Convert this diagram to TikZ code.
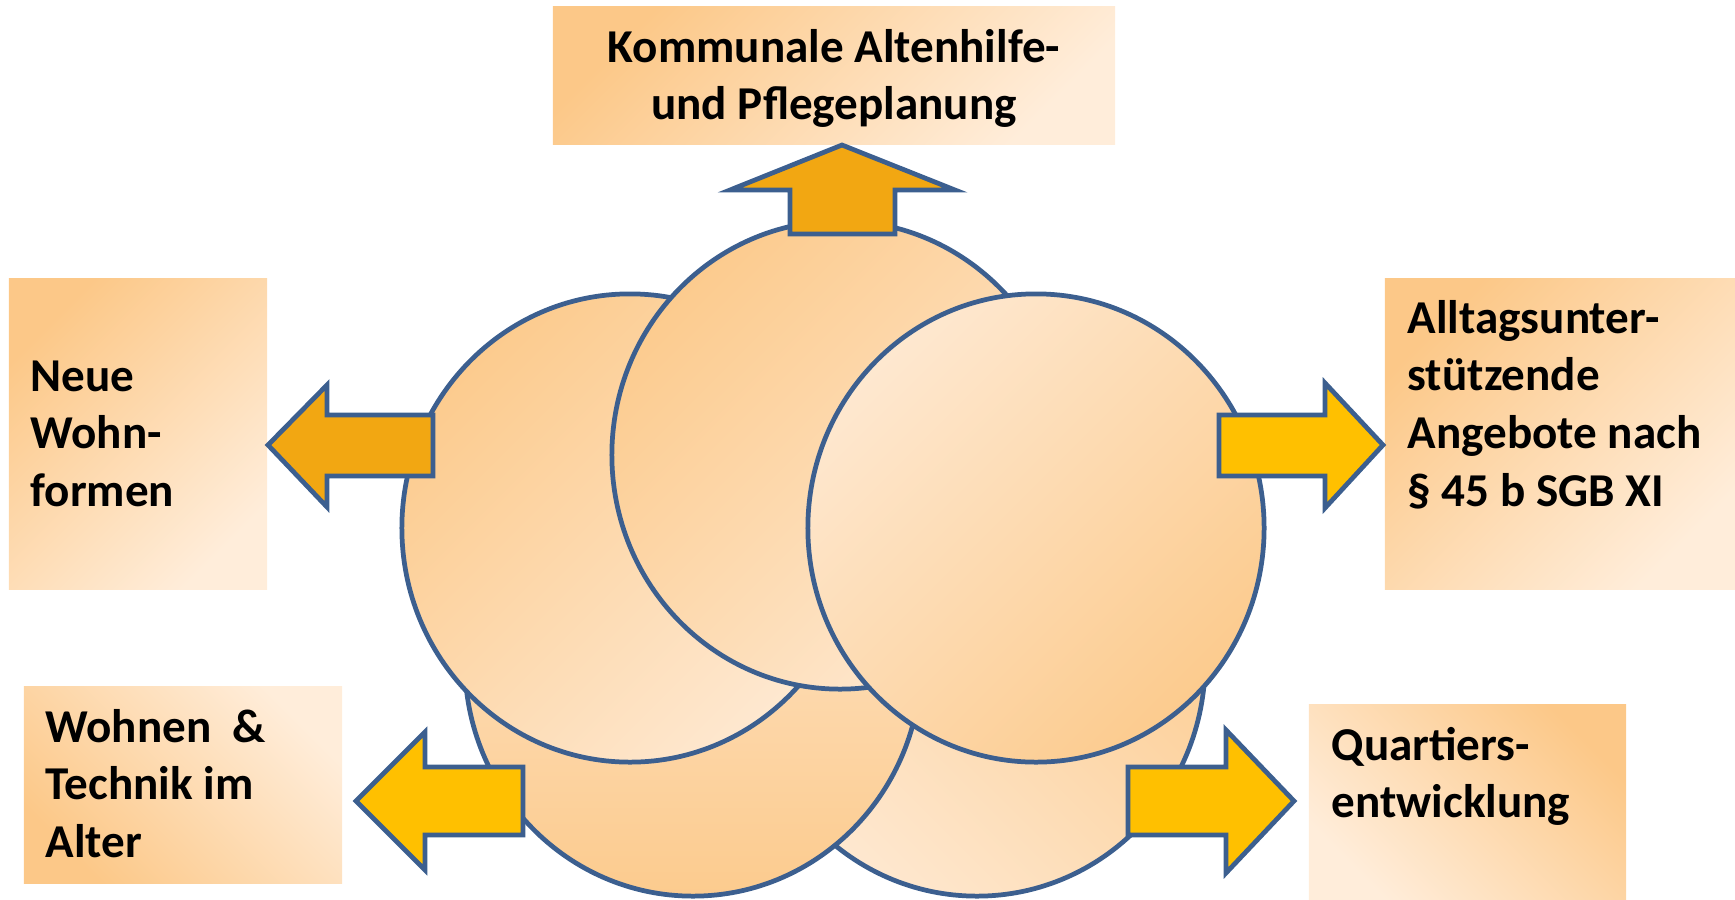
\documentclass[tikz,border=0pt]{standalone}
\usepackage{fontspec}
\setmainfont{Carlito}
\usetikzlibrary{shapes.geometric}
\definecolor{edge}{HTML}{3C5F8F}
\definecolor{peachD}{HTML}{FCC888}
\definecolor{peachL}{HTML}{FFEDDA}
\definecolor{cpeachD}{HTML}{FCCB8E}
\definecolor{cpeachL}{HTML}{FEE8D0}
\definecolor{orangeA}{HTML}{F2A712}
\definecolor{yellowA}{HTML}{FFC000}
\begin{document}
\begin{tikzpicture}[x=0.01cm,y=-0.01cm,
  box/.style={draw=none, inner sep=0, outer sep=0},
  bubble/.style={ellipse, draw=edge, line width=1.35pt, minimum width=4.56cm, minimum height=4.68cm, inner sep=0},
  blockarrow/.style={draw=edge, line width=1.35pt, line join=miter},
  lbl/.style={font=\bfseries\fontsize{13.4}{16.4}\selectfont, inner sep=0}]
\useasboundingbox (0,0) rectangle (1735,899);
% boxes
\node[box, minimum width=5.62cm, minimum height=1.37cm, top color=peachD, bottom color=peachL, shading angle=45] (topbox) at (834,75.5) {};
\node[box, minimum width=2.58cm, minimum height=3.10cm, top color=peachD, bottom color=peachL, shading angle=45] (leftbox) at (138,434) {};
\node[box, minimum width=3.50cm, minimum height=3.10cm, top color=peachD, bottom color=peachL, shading angle=45] (rightbox) at (1560,434) {};
\node[box, minimum width=3.18cm, minimum height=1.96cm, top color=peachL, bottom color=peachD, shading angle=-45] (blbox) at (183,785) {};
\node[box, minimum width=3.17cm, minimum height=1.94cm, top color=peachD, bottom color=peachL, shading angle=-45] (brbox) at (1467.5,802) {};
% circles
\node[bubble, top color=cpeachD, bottom color=cpeachL, shading angle=-45] (cbr) at (977,662) {};
\node[bubble, top color=cpeachL, bottom color=cpeachD] (cbl) at (693,662) {};
\node[bubble, top color=cpeachD, bottom color=cpeachL, shading angle=45] (cleft) at (630,528) {};
\node[bubble, top color=cpeachD, bottom color=cpeachL, shading angle=45] (ctop) at (840,455) {};
\node[bubble, top color=cpeachL, bottom color=cpeachD, shading angle=45] (cright) at (1036,528) {};
% block arrows
\draw[blockarrow, fill=orangeA] (842,145) -- (955,190) -- (895,190) -- (895,234) -- (790,234) -- (790,190) -- (730,190) -- cycle;
\draw[blockarrow, fill=orangeA] (268,445) -- (327,385) -- (327,415) -- (433,415) -- (433,476) -- (327,476) -- (327,507) -- cycle;
\draw[blockarrow, fill=yellowA] (1383,445) -- (1325,383) -- (1325,415) -- (1219,415) -- (1219,476) -- (1325,476) -- (1325,508) -- cycle;
\draw[blockarrow, fill=yellowA] (356,801) -- (425,732) -- (425,767) -- (523,767) -- (523,835) -- (425,835) -- (425,870) -- cycle;
\draw[blockarrow, fill=yellowA] (1294,801) -- (1226,730) -- (1226,767) -- (1128,767) -- (1128,835) -- (1226,835) -- (1226,873) -- cycle;
% texts
\node[lbl, anchor=base] (ttop) at (834,62) {\begin{tabular}[t]{@{}c@{}}Kommunale Altenhilfe-\\und Pflegeplanung\end{tabular}};
\node[lbl, anchor=base west] (tleft) at (30,391) {\begin{tabular}[t]{@{}l@{}}Neue\\Wohn-\\formen\end{tabular}};
\node[lbl, anchor=base west] (tright) at (1407,333) {\begin{tabular}[t]{@{}l@{}}Alltagsunter-\\stützende\\Angebote nach\\§ 45 b SGB XI\end{tabular}};
\node[lbl, anchor=base west] (tbl) at (45,742) {\begin{tabular}[t]{@{}l@{}}Wohnen\ \ \&\\Technik im\\Alter\end{tabular}};
\node[lbl, anchor=base west] (tbr) at (1331,760) {\begin{tabular}[t]{@{}l@{}}Quartiers-\\entwicklung\end{tabular}};
\end{tikzpicture}
\end{document}
